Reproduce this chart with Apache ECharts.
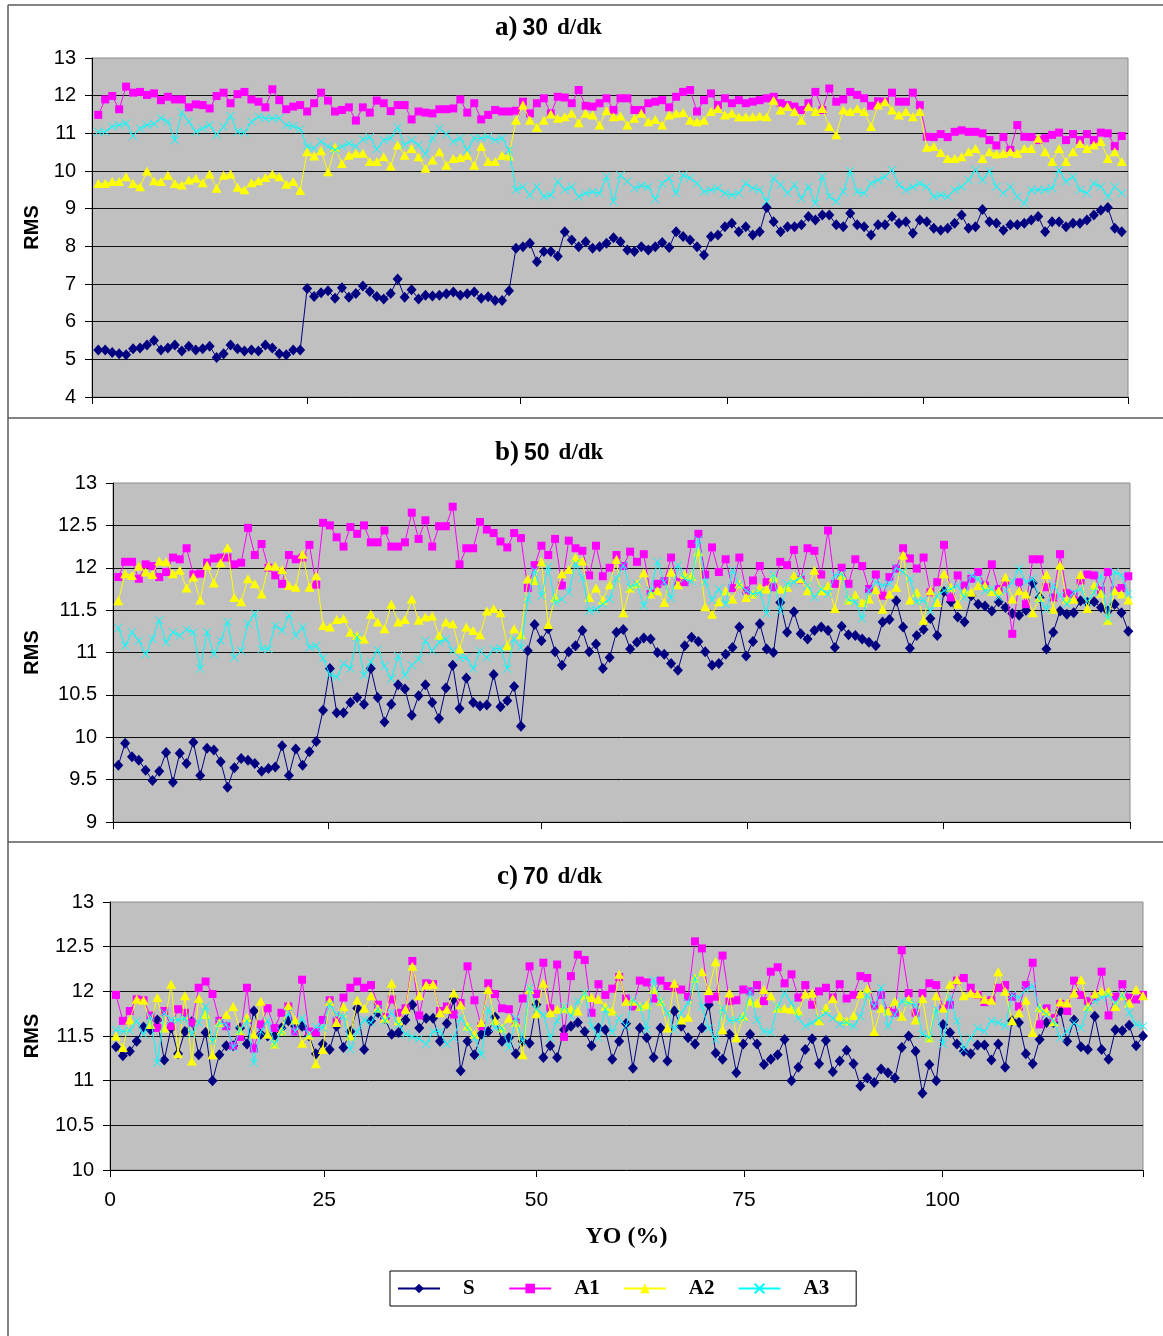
<!DOCTYPE html>
<html>
<head>
<meta charset="utf-8">
<title>RMS - YO (%)</title>
<script src="https://cdn.jsdelivr.net/npm/echarts@6/dist/echarts.min.js"></script>
<style>
  html, body { margin: 0; padding: 0; background: #ffffff; }
  #chart { width: 1163px; height: 1336px; }
</style>
</head>
<body>
<div id="chart"></div>
<script>
// Series names shared by the three panels
const seriesNames = ['S', 'A1', 'A2', 'A3'];

// ---- a) 30 d/dk ----
const s30 = [5.25,5.25,5.18,5.15,5.12,5.28,5.3,5.38,5.5,5.25, 5.3,5.38,5.22,5.35,5.25,5.28,5.35,5.05,5.15,5.38,
  5.28,5.22,5.25,5.22,5.38,5.3,5.15,5.12,5.25,5.25,
  6.88,6.67,6.77,6.82,6.62,6.9,6.65,6.75,6.95,6.8, 6.67,6.6,6.75,7.13,6.65,6.85,6.6,6.7,
  6.68,6.7,6.74,6.79,6.7,6.74,6.79,6.62,6.66,6.56, 6.56,6.82,
  7.95,7.99,8.08,7.59,7.86,7.86,7.74,8.39,8.17,7.99, 8.12,7.95,7.99,8.08,8.23,8.12,7.9,7.86,7.99,7.9,
  7.99,8.1,7.97,8.39,8.26,8.17,7.99,7.77,8.26,8.3, 8.52,8.61,8.39,8.52,8.3,8.39,9.03,
  8.65,8.39,8.52,8.52,8.57,8.79,8.7,8.83,8.83,8.57, 8.52,8.88,8.57,8.52,8.3,8.57,8.57,8.79,8.61,8.65,
  8.35,8.7,8.65,8.48,8.43,8.48,8.61,8.83,8.48,8.52, 8.98,8.65,8.61,8.43,8.57,8.57,8.61,8.7,8.79,8.39,
  8.65,8.65,8.52,8.61,8.61,8.7,8.83,8.96,9.03,8.48, 8.39];
const a1_30 = [11.49,11.9,11.99,11.64,12.24,12.08,12.1,12.02,12.06,11.88, 11.97,11.9,11.9,11.69,11.77,11.75,11.66,11.99,12.08,11.8,
  12.04,12.1,11.9,11.84,11.69,12.17,11.88,11.64,11.71,11.75, 11.58,11.8,12.08,11.87,11.58,11.62,11.69,11.34,11.69,11.55,
  11.87,11.8,11.59,11.75,11.75,11.37,11.58,11.55,
  11.53,11.64,11.64,11.66,11.9,11.55,11.8,11.37,11.49,11.62, 11.58,11.58,11.6,11.84,11.53,11.8,11.93,11.53,11.97,11.95,
  11.8,12.15,11.73,11.71,11.8,11.93,11.62,11.93,11.93,11.62, 11.62,11.8,11.84,11.88,11.69,11.97,12.1,12.15,11.58,11.88,
  12.06,11.75,11.93,11.8,11.88,11.8,11.84,11.88,11.93,11.97,
  11.8,11.75,11.71,11.62,11.8,12.1,11.62,12.19,11.84,11.9, 12.1,12.02,11.93,11.73,11.85,11.84,12.08,11.84,11.84,12.08, 11.75,
  10.91,10.9,10.98,10.9,11.04,11.08,11.04,11.04,11.0,10.82, 10.68,10.9,10.56,11.22,10.91,10.9,10.82,10.87,10.96,11.02,
  10.82,10.98,10.82,10.98,10.82,11.02,11.0,10.66,10.93];
const a2_30 = [9.67,9.67,9.72,9.72,9.85,9.67,9.58,10.0,9.74,9.72, 9.89,9.67,9.63,9.76,9.81,9.69,9.92,9.54,9.89,9.92,
  9.57,9.5,9.69,9.74,9.83,9.92,9.85,9.65,9.72,9.48,
  10.51,10.4,10.54,9.98,10.63,10.2,10.42,10.47,10.47,10.25, 10.25,10.38,10.13,10.69,10.42,10.6,10.38,10.07,
  10.29,10.51,10.15,10.33,10.36,10.42,10.15,10.65,10.25,10.25, 10.42,10.4,
  11.35,11.75,11.35,11.16,11.35,11.51,11.4,11.44,11.53,11.28, 11.53,11.49,11.22,11.6,11.44,11.46,11.22,11.4,11.53,11.31,
  11.37,11.22,11.49,11.53,11.55,11.35,11.31,11.35,11.58,11.66, 11.49,11.53,11.44,11.44,11.44,11.46,11.44,
  11.88,11.62,11.71,11.58,11.35,11.71,11.58,11.66,11.18,10.96, 11.62,11.58,11.66,11.58,11.18,11.75,11.84,11.62,11.49,11.58,
  11.44,11.58,
  10.63,10.65,10.49,10.33,10.33,10.38,10.51,10.6,10.33,10.51, 10.45,10.47,10.51,10.47,10.6,10.6,10.87,10.51,10.25,10.6,
  10.25,10.51,10.73,10.6,10.69,10.78,10.33,10.51,10.25];
const a3_30 = [11.04,11.04,11.18,11.22,11.27,10.93,11.13,11.22,11.25,11.4, 11.31,10.82,11.55,11.31,11.04,11.13,11.22,10.96,11.18,11.46,
  11.04,11.02,11.31,11.44,11.4,11.4,11.4,11.22,11.19,11.11,
  10.65,10.6,10.78,10.65,10.56,10.65,10.73,10.65,10.84,10.9, 10.58,10.82,10.87,11.16,10.69,10.82,10.69,10.45,
  10.87,11.13,10.98,10.78,10.87,10.56,10.87,10.87,10.91,10.82, 10.87,10.56,
  9.5,9.58,9.36,9.58,9.32,9.36,9.72,9.5,9.58,9.32, 9.41,9.45,9.41,9.85,9.19,9.89,9.72,9.54,9.61,9.58,
  9.25,9.67,9.81,9.41,9.89,9.81,9.67,9.45,9.5,9.54, 9.41,9.36,9.41,9.67,9.54,9.5,9.19,
  9.81,9.63,9.41,9.63,9.27,9.58,9.14,9.85,9.32,9.19, 9.45,10.0,9.45,9.41,9.67,9.76,9.85,10.03,9.63,9.5,
  9.58,9.67,9.58,9.32,9.36,9.32,9.5,9.58,9.76,10.03, 9.76,10.0,9.58,9.41,9.58,9.32,9.14,9.5,9.5,9.5,
  9.54,10.03,9.72,9.85,9.5,9.41,9.67,9.58,9.32,9.58, 9.41];

// ---- b) 50 d/dk ----
const s50 = [9.67,9.93,9.77,9.73,9.61,9.49,9.6,9.82,9.47,9.81, 9.69,9.94,9.55,9.87,9.85,9.71,9.41,9.64,9.75,9.73,
  9.69,9.6,9.63,9.65,9.9,9.55,9.86,9.67,9.83,9.95,
  10.32,10.81,10.29,10.29,10.41,10.47,10.39,10.81,10.47,10.18, 10.39,10.62,10.57,10.26,10.49,10.62,10.41,10.22,10.58,10.85,
  10.34,10.7,10.41,10.37,10.38,10.74,10.36,10.43,10.6,10.13, 11.02,11.33,11.14,11.28,11.01,10.85,11.01,11.08,11.26,11.01,
  11.1,10.81,10.94,11.24,11.27,11.04,11.12,11.17,11.16,11.0, 10.98,10.87,10.79,11.08,11.18,11.13,11.01,10.85,10.87,10.98,
  11.06,11.3,10.96,11.13,11.34,11.04,11.0,11.59,11.24,
  11.48,11.22,11.16,11.26,11.3,11.26,11.06,11.31,11.21,11.2, 11.16,11.12,11.08,11.36,11.39,11.61,11.3,11.05,11.2,11.27,
  11.4,11.2,11.72,11.6,11.42,11.36,11.67,11.57,11.55,11.49, 11.6,11.53,11.46,11.44,11.5,11.82,11.65,11.04,11.24,11.49,
  11.45,11.47,11.61,11.59,11.6,11.53,11.49,11.57,11.47,11.25];
const a1_50 = [11.89,12.07,12.07,11.87,12.04,12.02,11.89,11.95,12.12,12.1, 12.23,11.92,11.93,12.06,12.11,12.12,12.12,12.04,12.06,12.47,
  12.15,12.28,12.0,11.91,11.81,12.15,12.1,12.12,12.27,11.8,
  12.53,12.5,12.36,12.25,12.48,12.4,12.5,12.3,12.3,12.44, 12.25,12.25,12.3,12.65,12.34,12.56,12.25,12.49,12.49,12.72,
  12.04,12.23,12.23,12.54,12.45,12.41,12.31,12.24,12.41,12.35, 11.76,12.03,12.26,12.15,12.34,11.79,12.32,12.23,12.2,11.91,
  12.26,11.9,12.0,12.15,12.02,12.19,12.07,12.16,11.69,11.81, 11.84,12.12,11.83,11.83,12.28,12.4,11.92,12.24,11.95,12.1,
  11.76,12.12,11.73,11.85,12.02,11.83,11.77,12.07,12.03,
  12.21,11.86,12.23,12.2,11.92,12.44,11.81,12.0,11.81,12.1, 12.02,11.75,11.92,11.67,11.89,11.99,12.23,12.11,11.99,12.12,
  11.71,11.83,12.27,11.65,11.91,11.79,11.87,11.95,11.79,12.04, 11.75,11.83,11.22,11.83,11.57,12.1,12.1,11.77,11.65,12.16,
  11.7,11.68,11.85,11.92,11.91,11.73,11.95,11.73,11.76,11.9];
const a2_50 = [11.61,11.93,11.91,12.02,11.95,11.92,12.08,12.07,11.93,11.97, 11.76,11.89,11.62,12.03,11.82,12.06,12.24,11.65,11.6,11.87,
  11.81,11.69,12.02,12.02,11.98,11.79,11.77,12.16,11.77,11.91,
  11.32,11.3,11.39,11.4,11.24,11.2,11.16,11.45,11.36,11.28, 11.57,11.36,11.39,11.63,11.38,11.42,11.43,11.2,11.36,11.34,
  11.04,11.3,11.26,11.21,11.49,11.52,11.47,11.08,11.28,11.21, 11.87,11.85,12.07,11.33,11.65,11.93,11.98,12.12,12.08,11.65,
  11.76,11.62,11.8,12.1,11.47,11.76,11.81,11.94,11.69,11.73, 11.59,11.95,11.8,11.92,11.9,12.19,11.54,11.45,11.6,11.73,
  11.63,11.81,11.65,11.69,11.77,11.75,11.89,11.75,11.77,
  11.91,11.87,11.73,11.97,11.73,11.79,11.52,11.91,11.62,11.68, 11.59,11.63,11.74,11.51,11.69,11.77,12.15,11.62,11.71,11.38,
  11.73,11.59,11.93,11.77,11.57,11.72,11.71,11.79,11.79,11.72, 11.73,11.89,11.63,11.73,11.69,11.47,11.65,11.92,11.51,12.03,
  11.63,11.63,11.92,11.52,11.79,11.7,11.38,11.73,11.69,11.62];
const a3_50 = [11.29,11.08,11.24,11.14,10.98,11.16,11.38,11.12,11.24,11.2, 11.27,11.24,10.81,11.24,10.98,11.14,11.36,10.94,11.02,11.34,
  11.46,11.04,11.04,11.32,11.26,11.44,11.2,11.3,11.06,11.08,
  10.93,10.74,10.71,10.87,10.81,11.18,10.73,10.89,11.03,10.84, 10.69,10.96,10.73,10.85,10.92,11.14,11.02,11.12,11.16,11.02,
  10.94,10.94,10.81,11.02,10.94,11.04,11.05,10.81,11.16,11.06, 11.63,11.97,11.67,12.01,11.59,11.63,11.71,12.05,11.88,11.49,
  11.51,11.57,11.63,11.87,12.03,11.77,11.81,11.55,11.73,12.07, 11.83,11.64,12.03,11.87,11.84,12.33,11.83,11.62,11.75,11.57,
  11.97,11.8,11.73,11.69,11.71,11.46,11.92,11.49,11.81,
  11.83,11.89,11.79,11.65,11.75,11.69,11.91,11.93,11.62,11.6, 11.4,11.73,11.83,11.79,11.81,12.0,11.95,11.87,11.6,11.62,
  11.49,11.67,11.73,11.75,11.79,11.65,11.91,11.87,11.73,11.75, 11.65,11.73,11.83,11.99,11.83,11.87,11.63,11.51,11.79,11.67,
  11.57,11.71,11.75,11.6,11.71,11.91,11.4,11.95,11.91,11.69];

// ---- c) 70 d/dk ----
const s70 = [11.38,11.28,11.33,11.44,11.6,11.57,11.68,11.23,11.59,11.3, 11.55,11.66,11.29,11.54,11.0,11.29,11.39,11.39,11.59,11.41,
  11.78,11.52,11.5,11.5,11.59,11.67,11.61,11.61,11.5,11.3, 11.41,11.35,11.61,11.37,11.55,11.81,11.35,11.67,11.76,11.7,
  11.52,11.54,11.68,11.85,11.59,11.7,11.7,11.44,11.64,11.91, 11.11,
  11.44,11.29,11.52,11.55,11.71,11.44,11.48,11.3,11.44,11.42, 11.85,11.26,11.39,11.26,11.57,11.61,11.65,11.55,11.39,11.59,
  11.57,11.24,11.44,11.64,11.14,11.59,11.48,11.26,11.59,11.22, 11.78,11.61,11.48,11.41,11.59,11.85,11.31,11.24,11.52,11.09,
  11.41,11.52,11.41,11.18,11.24,11.29,11.46,
  11.0,11.15,11.35,11.47,11.19,11.45,11.1,11.22,11.34,11.19, 10.94,11.03,10.98,11.13,11.09,11.03,11.37,11.5,11.33,10.86,
  11.18,11.0,11.63,11.54,11.41,11.33,11.3,11.4,11.4,11.23, 11.41,11.15,11.67,11.65,11.3,11.19,11.46,11.65,11.65,11.78,
  11.44,11.68,11.38,11.35,11.72,11.35,11.24,11.57,11.56,11.62, 11.39,11.5];
const a1_70 = [11.96,11.67,11.78,11.91,11.9,11.73,11.59,11.78,11.61,11.8, 11.76,11.65,12.04,12.11,11.97,11.67,11.61,11.39,11.49,12.04,
  11.36,11.63,11.81,11.59,11.76,11.83,11.55,12.13,11.55,11.54, 11.68,11.9,11.67,11.93,12.04,12.11,12.04,12.07,11.85,11.71,
  11.91,11.76,11.81,12.34,11.73,12.09,12.08,11.78,11.83,11.74, 11.87,
  12.28,11.9,11.61,12.09,11.97,11.81,11.8,11.65,11.92,12.28, 11.97,12.32,11.81,12.3,11.49,12.17,12.41,12.35,11.76,12.08,
  11.96,12.03,12.16,11.92,11.83,12.12,12.1,11.92,12.12,12.06, 12.04,12.02,11.94,12.56,12.48,11.91,11.94,12.4,11.89,11.9,
  12.02,12.0,12.07,11.89,12.22,12.27,12.09,
  12.19,11.93,12.07,11.85,12.0,12.04,11.93,12.08,11.92,11.96, 12.17,12.15,11.84,11.96,11.78,11.76,12.46,11.98,11.76,11.98,
  12.09,12.07,11.81,11.85,12.12,12.15,12.04,11.96,11.88,11.9, 12.04,12.07,11.94,11.83,12.07,12.32,11.63,11.81,11.7,11.86,
  11.78,12.12,11.96,11.89,11.94,12.22,11.73,11.94,12.08,11.93, 11.91,11.96];
const a2_70 = [11.5,11.37,11.68,11.91,11.9,11.63,11.93,11.59,12.08,11.3, 11.95,11.22,11.92,11.74,11.29,11.65,11.74,11.83,11.56,11.71,
  11.52,11.89,11.52,11.41,11.56,11.84,11.68,11.42,11.51,11.19, 11.35,11.89,11.65,11.83,11.5,11.9,11.81,11.95,11.81,11.7,
  12.09,11.67,11.8,12.28,11.95,12.07,12.08,11.76,11.8,11.98, 11.85,
  11.61,11.52,11.65,12.02,11.67,11.59,11.7,11.65,11.29,12.02, 11.75,12.09,11.76,11.8,11.81,11.8,11.78,11.96,11.93,11.91,
  11.83,11.78,12.19,11.89,11.89,11.83,11.85,12.02,11.89,11.59, 12.09,11.68,11.71,12.15,12.22,12.01,12.33,11.57,11.98,11.48,
  11.72,11.89,11.87,12.02,11.95,11.81,11.81,
  11.8,11.78,11.97,11.98,11.67,11.82,11.92,11.72,11.67,11.73, 11.97,12.03,11.55,11.81,11.78,11.89,11.72,11.91,11.68,11.92,
  11.48,11.95,11.81,12.08,12.13,11.95,11.98,11.97,11.91,11.9, 12.22,12.0,11.67,11.76,11.9,11.54,11.82,11.78,11.66,11.88,
  11.87,11.98,12.13,11.83,11.97,12.0,12.0,11.83,11.95,11.87, 12.02,11.95];
const a3_70 = [11.57,11.55,11.56,11.67,11.52,11.72,11.2,11.76,11.68,11.68, 11.7,11.52,11.65,11.83,11.44,11.65,11.63,11.37,11.57,11.67,
  11.2,11.55,11.67,11.41,11.55,11.76,11.55,11.7,11.52,11.6, 11.59,11.85,11.74,11.72,11.35,11.55,11.68,11.65,11.8,11.67,
  11.76,11.63,11.52,11.49,11.47,11.41,11.55,11.55,11.41,11.48, 11.7,
  11.59,11.48,11.29,11.8,11.59,11.59,11.37,11.7,11.44,12.04, 11.8,11.74,11.48,11.67,11.83,11.72,11.89,11.98,11.61,11.48,
  11.8,11.54,11.7,11.61,11.91,11.83,11.57,12.13,11.89,11.76, 11.57,11.76,11.87,12.15,11.83,11.59,11.46,11.81,11.67,11.68,
  11.7,12.0,11.68,11.55,11.54,11.83,11.98,
  11.87,11.7,11.61,11.65,11.7,11.76,11.7,11.63,11.65,11.61, 11.72,11.96,11.83,12.04,11.61,11.74,11.89,11.87,11.85,11.52,
  11.48,11.8,11.41,11.93,11.67,11.35,11.48,11.59,11.55,11.67, 11.65,11.61,11.96,11.93,12.02,12.06,11.81,11.74,11.67,11.48,
  11.55,11.65,11.59,11.81,11.89,11.93,11.96,11.87,11.96,11.76, 11.63,11.61];

// YO (%) labels on the shared bottom axis
const yoLabels = ['0', '25', '50', '75', '100'];

// Panel layout: plot boxes, value ranges and segment tick positions (in sample index units)
const panels = [
  { letter: 'a', speed: '30', data: [s30, a1_30, a2_30, a3_30],
    grid: { left: 92, top: 58, width: 1036, height: 339 },
    y: { min: 4, max: 13, interval: 1 },
    x: { min: -0.9, max: 147.9, ticks: [-0.9, 30, 60.6, 90.4, 118.5, 147.9] },
    nameGap: 50, titleLeft: 490, titleTop: 10 },
  { letter: 'b', speed: '50', data: [s50, a1_50, a2_50, a3_50],
    grid: { left: 113, top: 483, width: 1017, height: 339 },
    y: { min: 9, max: 13, interval: 0.5 },
    x: { min: -0.78, max: 148.25, ticks: [-0.78, 30.7, 62, 92.1, 120.9, 148.25] },
    nameGap: 71, titleLeft: 490, titleTop: 435 },
  { letter: 'c', speed: '70', data: [s70, a1_70, a2_70, a3_70],
    grid: { left: 110, top: 902, width: 1033, height: 268 },
    y: { min: 10, max: 13, interval: 0.5 },
    x: { min: -0.87, max: 149, ticks: [-0.87, 30.2, 61, 91.1, 119.9, 149] },
    nameGap: 68, titleLeft: 492, titleTop: 859 }
];

// Marker / line styles for S, A1, A2, A3
const styles = [
  { symbol: 'diamond', size: [10, 11], line: '#000080',
    item: { color: '#000080' } },
  { symbol: 'rect', size: [8, 8], line: '#FF00FF',
    item: { color: '#FF00FF' } },
  { symbol: 'triangle', size: [10, 9], line: '#FFFF00',
    item: { color: '#FFFF00' } },
  { symbol: 'path://M0,0L10,10M10,0L0,10', size: [8, 8], line: '#00FFFF',
    item: { color: 'rgba(0,0,0,0)', borderColor: '#00FFFF', borderWidth: 1 } }
];

const grids = [], xAxes = [], yAxes = [], series = [], titles = [];

panels.forEach((p, gi) => {
  const isLast = gi === panels.length - 1;
  grids.push(Object.assign({
    show: true, backgroundColor: '#C0C0C0', borderColor: '#8c8c8c', borderWidth: 1
  }, p.grid));

  titles.push({
    text: `{l|${p.letter})}{n|${p.speed}}{u|d/dk}`,
    left: p.titleLeft, top: p.titleTop,
    textStyle: {
      rich: {
        l: { fontFamily: 'Liberation Serif', fontWeight: 'bold', fontSize: 27, color: '#000' },
        n: { fontFamily: "'Liberation Sans Narrow', 'Liberation Sans', sans-serif", fontWeight: 'bold',
             fontSize: 23, color: '#000', padding: [0, 0, 0, 5] },
        u: { fontFamily: 'Liberation Serif', fontWeight: 'bold', fontSize: 23, color: '#000',
             padding: [0, 0, 0, 9] }
      }
    }
  });

  const tickVals = p.x.ticks;
  xAxes.push({
    type: 'value', gridIndex: gi, min: p.x.min, max: p.x.max,
    axisLine: { show: true, onZero: false, lineStyle: { color: '#000', width: 1 } },
    axisTick: { show: true, customValues: tickVals, length: 7, lineStyle: { color: '#000', width: 1 } },
    axisLabel: isLast ? {
      show: true, customValues: tickVals.slice(0, yoLabels.length),
      formatter: v => { const k = tickVals.indexOf(v); return k >= 0 && k < yoLabels.length ? yoLabels[k] : ''; },
      fontFamily: 'Liberation Sans', fontSize: 21, color: '#000', margin: 20
    } : { show: false },
    splitLine: { show: false },
    name: isLast ? 'YO (%)' : '',
    nameLocation: 'middle', nameGap: 55,
    nameTextStyle: { fontFamily: 'Liberation Serif', fontWeight: 'bold', fontSize: 24, color: '#000' }
  });

  yAxes.push({
    type: 'value', gridIndex: gi, min: p.y.min, max: p.y.max, interval: p.y.interval,
    axisLine: { show: true, onZero: false, lineStyle: { color: '#000', width: 1 } },
    axisTick: { show: true, length: 7, lineStyle: { color: '#000', width: 1 } },
    axisLabel: { fontFamily: 'Liberation Sans', fontSize: 20, color: '#000', margin: 16 },
    splitLine: { show: true, showMinLine: false, showMaxLine: false, lineStyle: { color: '#111', width: 1 } },
    name: 'RMS', nameLocation: 'middle', nameRotate: 90, nameGap: p.nameGap,
    nameTextStyle: { fontFamily: 'Liberation Sans', fontWeight: 'bold', fontSize: 20, color: '#000' }
  });

  p.data.forEach((vals, k) => {
    const st = styles[k];
    series.push({
      name: seriesNames[k], type: 'line', xAxisIndex: gi, yAxisIndex: gi,
      data: vals.map((v, i) => [i, v]),
      symbol: st.symbol, symbolSize: st.size, showSymbol: true, showAllSymbol: true,
      lineStyle: { color: st.line, width: 1 },
      itemStyle: st.item,
      emphasis: { disabled: true },
      z: 2 + k
    });
  });
});

const chart = echarts.init(document.getElementById('chart'), null, { renderer: 'canvas', width: 1163, height: 1336 });
chart.setOption({
  animation: false,
  backgroundColor: '#ffffff',
  title: titles,
  grid: grids,
  xAxis: xAxes,
  yAxis: yAxes,
  legend: {
    data: seriesNames, left: 390, top: 1271, orient: 'horizontal',
    itemWidth: 42, itemHeight: 12, itemGap: 23,
    padding: [7, 27, 7, 7],
    borderColor: '#000', borderWidth: 1,
    selectedMode: false,
    // pad the one-letter name so every entry keeps the same pitch
    formatter: name => (name.length === 1 ? name + '\u00a0\u00a0' : name),
    textStyle: { fontFamily: 'Liberation Serif', fontWeight: 'bold', fontSize: 21, color: '#000',
                 padding: [0, 0, 0, 18] }
  },
  graphic: {
    elements: [
      { type: 'line', shape: { x1: 8, y1: 5, x2: 1163, y2: 5 }, style: { stroke: '#5a5a5a', lineWidth: 1.5 } },
      { type: 'line', shape: { x1: 8, y1: 5, x2: 8, y2: 1336 }, style: { stroke: '#5a5a5a', lineWidth: 1.5 } },
      { type: 'line', shape: { x1: 8, y1: 418, x2: 1163, y2: 418 }, style: { stroke: '#5a5a5a', lineWidth: 1.5 } },
      { type: 'line', shape: { x1: 8, y1: 842, x2: 1163, y2: 842 }, style: { stroke: '#5a5a5a', lineWidth: 1.5 } }
    ]
  },
  series: series
});
</script>
</body>
</html>
